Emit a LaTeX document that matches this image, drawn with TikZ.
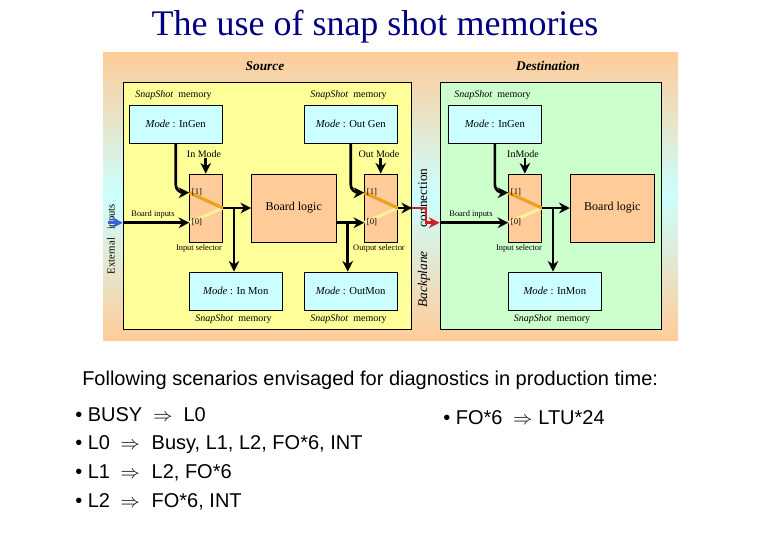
\documentclass[tikz,border=0pt]{standalone}
\usepackage{xcolor}
\usepackage{fontspec}
\setmainfont{Liberation Serif}
\newfontfamily\slidefont{Liberation Sans}
\usetikzlibrary{arrows.meta}
\definecolor{titleblue}{RGB}{0, 0, 128}
\definecolor{panelorange}{RGB}{255, 204, 153}
\definecolor{panelcyan}{RGB}{204, 255, 255}
\definecolor{srcyellow}{RGB}{255, 255, 153}
\definecolor{destgreen}{RGB}{204, 255, 204}
\definecolor{pathon}{RGB}{235, 160, 30}
\definecolor{pathoff}{RGB}{255, 238, 160}
\definecolor{redlink}{RGB}{210, 30, 40}
\definecolor{bluelink}{RGB}{50, 100, 220}
\tikzset{
    panel/.style = {rectangle, draw=none, top color=panelorange, bottom color=panelorange, middle color=panelcyan, minimum width=431.25pt, minimum height=216pt, inner sep=0pt},
    srcbox/.style = {rectangle, draw=black, fill=srcyellow, line width=0.6pt, minimum width=216.4pt, minimum height=185.3pt, inner sep=0pt},
    destbox/.style = {rectangle, draw=black, fill=destgreen, line width=0.6pt, minimum width=166.3pt, minimum height=185.3pt, inner sep=0pt},
    membox/.style = {rectangle, draw=black, fill=panelcyan, line width=0.6pt, minimum width=70.1pt, minimum height=28.5pt, inner sep=0pt, font=\fontsize{8}{9}\selectfont},
    muxbox/.style = {rectangle, draw=black, fill=panelorange, line width=0.6pt, minimum width=25.1pt, minimum height=51pt, inner sep=0pt},
    logicbox/.style = {rectangle, draw=black, fill=panelorange, line width=0.6pt, minimum width=63.3pt, minimum height=51pt, inner sep=0pt, font=\fontsize{9}{11}\selectfont},
    memlabel/.style = {inner sep=0pt, font=\fontsize{7.5}{9}\selectfont},
    smalllabel/.style = {inner sep=0pt, font=\fontsize{6.3}{7}\selectfont},
    portlabel/.style = {inner sep=0pt, font=\fontsize{6.5}{7}\selectfont},
    sidelabel/.style = {inner sep=0pt, rotate=90, font=\fontsize{8}{10}\selectfont},
    backlabel/.style = {inner sep=0pt, rotate=90, font=\fontsize{10}{12}\selectfont},
    zonelabel/.style = {inner sep=0pt, font=\fontsize{10}{12}\selectfont\bfseries\itshape},
    slidetext/.style = {inner sep=0pt, anchor=west, text height=11pt, text depth=3pt, font=\slidefont\fontsize{15}{17}\selectfont},
    bus/.style = {line width=2pt, draw=black, -{Stealth[length=8pt,width=8pt]}},
    pathsel/.style = {line width=2.4pt, draw=pathon},
    pathdes/.style = {line width=2.4pt, draw=pathoff}
}
\begin{document}
\begin{tikzpicture}[x=0.75pt, y=-0.75pt]
\useasboundingbox (0,0) rectangle (780,540);

% Title
\node (title) [inner sep=0pt, text=titleblue, font=\fontsize{27}{32}\selectfont] at (375,27) {The use of snap shot memories};

% Panels
\node (panel) [panel] at (390.5,196) {};
\node (srcBox) [srcbox] at (267.5,205.5) {};
\node (destBox) [destbox] at (550.85,205.5) {};
\node (srcZone) [zonelabel] at (265,66) {Source};
\node (destZone) [zonelabel] at (548,66) {Destination};

% Memories
\node (srcLGen) [membox] at (175.75,124) {\textit{Mode} : InGen};
\node (srcRGen) [membox] at (350.75,124) {\textit{Mode} : Out Gen};
\node (destGen) [membox] at (494.85,124) {\textit{Mode} : InGen};
\node (srcLMon) [membox] at (235.75,291) {\textit{Mode} : In Mon};
\node (srcRMon) [membox] at (350.75,291) {\textit{Mode} : OutMon};
\node (destMon) [membox] at (554.85,291) {\textit{Mode} : InMon};

\node (srcLGenTag) [memlabel] at (173.5,95) {\textit{SnapShot}\ \ memory};
\node (srcRGenTag) [memlabel] at (348.5,95) {\textit{SnapShot}\ \ memory};
\node (destGenTag) [memlabel] at (492.5,95) {\textit{SnapShot}\ \ memory};
\node (srcLMonTag) [memlabel] at (233.5,319) {\textit{SnapShot}\ \ memory};
\node (srcRMonTag) [memlabel] at (348.5,319) {\textit{SnapShot}\ \ memory};
\node (destMonTag) [memlabel] at (552,319) {\textit{SnapShot}\ \ memory};

% Selectors and logic
\node (srcLMux) [muxbox] at (205.75,208) {};
\node (srcRMux) [muxbox] at (380.75,208) {};
\node (destMux) [muxbox] at (524.85,208) {};
\node (srcLogic) [logicbox] at (293.7,208) {\raisebox{1.5pt}{Board logic}\hspace{6pt}};
\node (destLogic) [logicbox] at (612.35,208) {\raisebox{1.5pt}{Board logic}\hspace{6pt}};

\coordinate (srcLIn1) at (189.3,192.7);
\coordinate (srcLIn0) at (189.3,222.7);
\coordinate (srcRIn1) at (364.3,192.7);
\coordinate (srcRIn0) at (364.3,222.7);
\coordinate (destIn1) at (508.3,192.7);
\coordinate (destIn0) at (508.3,222.7);

% Select paths
\draw [pathdes] (srcLIn0) -- (srcLMux.east);
\draw [pathsel] (srcLIn1) -- (srcLMux.east);
\draw [pathdes] (srcRIn0) -- (srcRMux.east);
\draw [pathsel] (srcRIn1) -- (srcRMux.east);
\draw [pathdes] (destIn0) -- (destMux.east);
\draw [pathsel] (destIn1) -- (destMux.east);

% Labels
\node (srcLOne) [portlabel] at (197,192) {[1]};
\node (srcLZero) [portlabel] at (197,222) {[0]};
\node (srcROne) [portlabel] at (372,192) {[1]};
\node (srcRZero) [portlabel] at (372,222) {[0]};
\node (destOne) [portlabel] at (516,192) {[1]};
\node (destZero) [portlabel] at (516,222) {[0]};
\node (srcLMode) [memlabel] at (204,154) {In Mode};
\node (srcRMode) [memlabel] at (379,154) {Out Mode};
\node (destMode) [memlabel] at (523,154) {InMode};
\node (srcLSel) [smalllabel] at (199,248) {Input selector};
\node (srcRSel) [smalllabel] at (379,248) {Output selector};
\node (destSel) [smalllabel] at (519,248) {Input selector};
\node (srcInputs) [smalllabel] at (153,214) {Board inputs};
\node (destInputs) [smalllabel] at (471,214) {Board inputs};
\node (extLabel) [sidelabel] at (112,239) {External\ \ \ inputs};
\node (backLabel) [backlabel] at (424,238) {\textit{Backplane}\hspace{18pt}connection};

\coordinate (extIn) at (108,222.7);
\coordinate (backBend) at (426,215);
\coordinate (srcLTap) at (234,208);
\coordinate (srcRTap) at (347.7,222.7);
\coordinate (destTap) at (553,208);

% Arrows
\draw [bus, rounded corners=6pt] (srcLGen.south) |- (srcLIn1);
\draw [bus, rounded corners=6pt] (srcRGen.south) |- (srcRIn1);
\draw [bus, rounded corners=6pt] (destGen.south) |- (destIn1);
\draw [bus] (srcLMode.south -| srcLMux.north) -- (srcLMux.north);
\draw [bus] (srcRMode.south -| srcRMux.north) -- (srcRMux.north);
\draw [bus] (destMode.south -| destMux.north) -- (destMux.north);
\draw [bus] (srcBox.west |- srcLIn0) -- (srcLIn0);
\draw [bus] (destBox.west |- destIn0) -- (destIn0);
\draw [bus] (srcLMux.east) -- (srcLogic.west);
\draw [bus] (destMux.east) -- (destLogic.west);
\draw [bus] (srcLogic.east |- srcRIn0) -- (srcRIn0);
\draw [bus] (srcRMux.east) -- (srcBox.east |- srcRMux.east);
\draw [bus] (srcLTap) -- (srcLTap |- srcLMon.north);
\draw [bus] (srcRTap) -- (srcRTap |- srcRMon.north);
\draw [bus] (destTap) -- (destTap |- destMon.north);
\draw [bus, draw=bluelink] (extIn) -- (srcBox.west |- extIn);
\draw [bus, draw=redlink] (srcBox.east |- srcRMux.east) -| (backBend) |- (destBox.west |- destIn0);

% Scenarios
\node (intro) [slidetext] at (82,380) {Following scenarios envisaged for diagnostics in production time:};
\node (rowBusy) [slidetext] at (75,416) {• BUSY\hspace{8.3pt}$\Rightarrow$\hspace{8.3pt}L0};
\node (rowZero) [slidetext] at (75,444) {• L0\hspace{8pt}$\Rightarrow$\hspace{8.8pt}Busy, L1, L2, FO*6, INT};
\node (rowOne) [slidetext] at (75,473) {• L1\hspace{8pt}$\Rightarrow$\hspace{8.8pt}L2, FO*6};
\node (rowTwo) [slidetext] at (75,502) {• L2\hspace{8pt}$\Rightarrow$\hspace{8.8pt}FO*6, INT};
\node (rowFan) [slidetext] at (443,419) {• FO*6\hspace{8pt}$\Rightarrow$\hspace{4.5pt}LTU*24};

\end{tikzpicture}
\end{document}
